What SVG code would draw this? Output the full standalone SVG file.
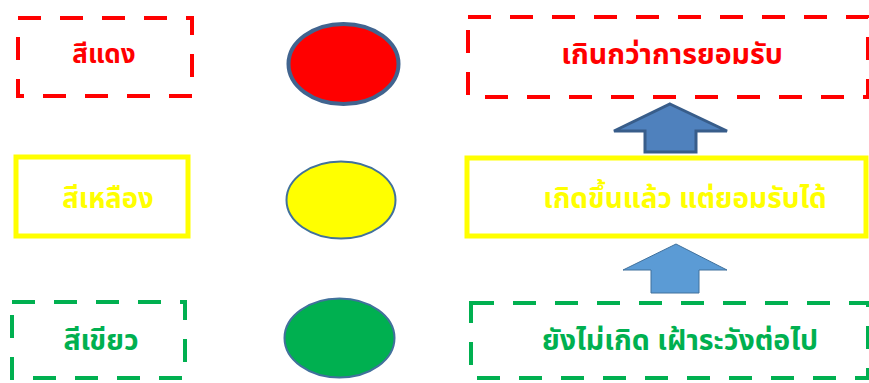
<svg xmlns="http://www.w3.org/2000/svg" width="869" height="383" viewBox="0 0 869 383">
<style>
.dash{fill:none;stroke-width:4;stroke-dasharray:23 19}
.red{stroke:#FF0000}
.grn{stroke:#00B050}
.yel{fill:none;stroke:#FFFF00;stroke-width:5}
.t{font-family:"Noto Sans Thai","Tahoma","Leelawadee UI","Noto Sans",sans-serif;font-weight:bold;text-anchor:middle;dominant-baseline:central}
.tr{fill:#FF0000}
.ty{fill:#FFFF00}
.tg{fill:#00B050}
</style>
<rect width="869" height="383" fill="#FFFFFF"/>
<g id="red-label">
<rect class="dash red" x="18" y="18" width="174" height="78"/>
<text class="t tr" x="104" y="55" font-size="26">สีแดง</text>
</g>
<g id="red-light">
<ellipse cx="343.5" cy="64" rx="55" ry="40" fill="#FF0000" stroke="#41648F" stroke-width="4"/>
</g>
<g id="red-level">
<rect class="dash red" x="468" y="17" width="400" height="80"/>
<text class="t tr" x="672" y="55" font-size="28.5">เกินกว่าการยอมรับ</text>
</g>
<g id="yellow-label">
<rect class="yel" x="16" y="157" width="172" height="79"/>
<text class="t ty" x="108" y="199" font-size="27.5">สีเหลือง</text>
</g>
<g id="yellow-level">
<rect class="yel" x="467" y="158" width="399" height="78"/>
<text class="t ty" x="685" y="199" font-size="28">เกิดขึ้นแล้ว แต่ยอมรับได้</text>
</g>
<g id="yellow-light">
<ellipse cx="341" cy="200" rx="54.5" ry="38.5" fill="#FFFF00" stroke="#41719C" stroke-width="2"/>
</g>
<g id="green-label">
<rect class="dash grn" x="12" y="302" width="173" height="76"/>
<text class="t tg" x="101" y="341" font-size="28.5">สีเขียว</text>
</g>
<g id="green-light">
<ellipse cx="339.5" cy="338" rx="55" ry="39.5" fill="#00B050" stroke="#41719C" stroke-width="2"/>
</g>
<g id="green-level">
<rect class="dash grn" x="471" y="303" width="397" height="75"/>
<text class="t tg" x="680" y="341" font-size="28.5">ยังไม่เกิด เฝ้าระวังต่อไป</text>
</g>
<g id="connectors">
<polygon points="670,104 727,131 696,131 696,152 645,152 645,131 614,131" fill="#4F81BD" stroke="#385D8A" stroke-width="3" stroke-linejoin="miter"/>
<polygon points="676,244 727,270 699,270 699,293 651,293 651,270 623,270" fill="#5B9BD5" stroke="#41719C" stroke-width="1"/>
</g>
</svg>
